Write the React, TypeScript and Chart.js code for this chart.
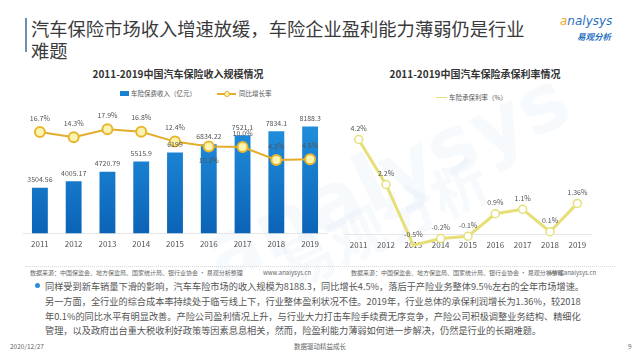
import React, { useEffect, useRef } from "react";
import { Chart, registerables } from "chart.js";

Chart.register(...registerables);

const years = ["2011", "2012", "2013", "2014", "2015", "2016", "2017", "2018", "2019"];
const premiumIncome = [3504.56, 4005.17, 4720.79, 5515.9, 6199, 6834.22, 7521.1, 7834.1, 8188.3];
const premiumLabels = ["3504.56", "4005.17", "4720.79", "5515.9", "6199", "6834.22", "7521.1", "7834.1", "8188.3"];
const growthRate = [16.7, 14.3, 17.9, 16.8, 12.4, 10.2, 10.0, 4.2, 4.5];
const growthLabels = ["16.7%", "14.3%", "17.9%", "16.8%", "12.4%", "10.2%", "10.0%", "4.2%", "4.5%"];
const underwritingRate = [4.2, 2.2, -0.5, -0.2, -0.1, 0.9, 1.1, 0.1, 1.36];
const underwritingLabels = ["4.2%", "2.2%", "-0.5%", "-0.2%", "-0.1%", "0.9%", "1.1%", "0.1%", "1.36%"];

const FONT = "'Noto Sans CJK SC', 'Noto Sans', sans-serif";

const valueLabelPlugin = {
  id: "valueLabels",
  afterDatasetsDraw(chart: any) {
    const ctx = chart.ctx;
    chart.data.datasets.forEach((ds: any, i: number) => {
      const cfg = ds.valueLabels;
      if (!cfg) return;
      const meta = chart.getDatasetMeta(i);
      meta.data.forEach((el: any, j: number) => {
        const below = cfg.below && cfg.below.includes(j);
        ctx.save();
        ctx.font = cfg.font;
        ctx.fillStyle = cfg.color;
        ctx.textAlign = "center";
        ctx.textBaseline = "middle";
        ctx.fillText(cfg.texts[j], el.x, below ? el.y + cfg.offset : el.y - cfg.offset);
        ctx.restore();
      });
    });
  },
};

function LeftChart() {
  const ref = useRef<HTMLCanvasElement>(null);
  useEffect(() => {
    const chart = new Chart(ref.current!, {
      type: "bar",
      data: {
        labels: years,
        datasets: [
          {
            type: "line",
            data: growthRate,
            yAxisID: "y1",
            order: 0,
            borderColor: "#e3ac2c",
            borderWidth: 2,
            pointRadius: 5,
            pointBackgroundColor: "#fbf3b0",
            pointBorderColor: "#e8b62e",
            pointBorderWidth: 2,
            tension: 0,
            clip: false,
            valueLabels: { texts: growthLabels, font: `7px ${FONT}`, color: "#555", offset: 14, below: [5] },
          } as any,
          {
            type: "bar",
            data: premiumIncome,
            yAxisID: "y",
            order: 1,
            categoryPercentage: 1,
            barPercentage: 0.47,
            backgroundColor: (c: any) => {
              const area = c.chart.chartArea;
              if (!area) return "#1a80d0";
              const g = c.chart.ctx.createLinearGradient(0, area.top, 0, area.bottom);
              g.addColorStop(0, "#2597e4");
              g.addColorStop(1, "#0b63b6");
              return g;
            },
            valueLabels: { texts: premiumLabels, font: `7px ${FONT}`, color: "#555", offset: 8 },
          } as any,
        ],
      },
      options: {
        responsive: false,
        animation: false,
        layout: { padding: { left: 23, right: 8, top: 4, bottom: 7 } },
        plugins: { legend: { display: false }, tooltip: { enabled: false } },
        scales: {
          x: {
            grid: { display: false, drawTicks: false },
            border: { display: true, color: "#e6e6e6" },
            ticks: { font: { size: 8, family: FONT }, color: "#555", padding: 6 },
          },
          y: { display: false, min: 0, max: 10000 },
          y1: { display: false, min: -28.5, max: 29.6 },
        },
      },
      plugins: [valueLabelPlugin],
    });
    return () => chart.destroy();
  }, []);
  return (
    <canvas ref={ref} width={335} height={166} style={{ position: "absolute", left: 0, top: 96, width: 335, height: 166 }} />
  );
}

function RightChart() {
  const ref = useRef<HTMLCanvasElement>(null);
  useEffect(() => {
    const chart = new Chart(ref.current!, {
      type: "line",
      data: {
        labels: years,
        datasets: [
          {
            data: underwritingRate,
            borderColor: "#e6df78",
            borderWidth: 3,
            pointRadius: 4,
            pointBackgroundColor: "#ffffff",
            pointBorderColor: "#e6df78",
            pointBorderWidth: 1.5,
            tension: 0,
            clip: false,
            valueLabels: { texts: underwritingLabels, font: `7px ${FONT}`, color: "#555", offset: 11 },
          } as any,
        ],
      },
      options: {
        responsive: false,
        animation: false,
        layout: { padding: { left: 15, right: 49, top: 6.5, bottom: 7.4 } },
        plugins: { legend: { display: false }, tooltip: { enabled: false } },
        scales: {
          x: {
            offset: true,
            grid: { display: false, drawTicks: false },
            border: { display: true, color: "#e6e6e6" },
            ticks: { font: { size: 8, family: FONT }, color: "#555", padding: 6 },
          },
          y: { display: false, min: 0, max: 5 },
        },
      },
      plugins: [valueLabelPlugin],
    });
    return () => chart.destroy();
  }, []);
  return (
    <canvas ref={ref} width={310} height={148} style={{ position: "absolute", left: 330, top: 115, width: 310, height: 148 }} />
  );
}

const abs = (s: React.CSSProperties): React.CSSProperties => ({ position: "absolute", whiteSpace: "nowrap", ...s });

export default function App() {
  const small: React.CSSProperties = { fontSize: 6, color: "#666", fontFamily: FONT };
  const body: React.CSSProperties = { fontSize: 9.2, color: "#555", fontFamily: FONT, left: 45 };
  return (
    <div style={{ position: "fixed", left: 0, top: 0, width: 640, height: 360, background: "#fff", overflow: "hidden", fontFamily: FONT }}>
      {/* watermark */}
      <div style={abs({ left: 190, top: 130, fontSize: 80, fontWeight: 700, color: "rgba(60,140,210,0.045)", transform: "rotate(-25deg)", fontFamily: "'DejaVu Sans', sans-serif" })}>analysys</div>
      <div style={abs({ left: 270, top: 180, fontSize: 56, fontWeight: 700, color: "rgba(60,140,210,0.045)", transform: "rotate(-25deg)" })}>易观分析</div>

      <div style={abs({ left: 25, top: 18, width: 2, height: 34, background: "#6d8fb3" })} />
      <div style={abs({ left: 31, top: 17, fontSize: 18.3, lineHeight: "22px", color: "#3a3a3a" })}>
        汽车保险市场收入增速放缓，车险企业盈利能力薄弱仍是行业
        <br />
        难题
      </div>
      <div style={abs({ left: 560, top: 14, fontSize: 12, fontStyle: "italic", color: "#1f6fc2", fontFamily: "'DejaVu Sans', sans-serif" })}>
        <span style={{ color: "#f0a830" }}>a</span>nalysys
      </div>
      <div style={abs({ left: 577, top: 30, fontSize: 8.5, fontStyle: "italic", color: "#1f6fc2", fontWeight: 700 })}>易观分析</div>

      <div style={abs({ left: 0, width: 356, top: 66, textAlign: "center", fontSize: 10, fontWeight: 700, color: "#333" })}>
        2011-2019中国汽车保险收入规模情况
      </div>
      <div style={abs({ left: 320, width: 310, top: 66, textAlign: "center", fontSize: 10, fontWeight: 700, color: "#333" })}>
        2011-2019中国汽车保险承保利率情况
      </div>

      {/* left legend */}
      <div style={abs({ left: 120, top: 91, width: 9, height: 5, background: "#1a80d0" })} />
      <div style={abs({ left: 131, top: 88, fontSize: 6.5, color: "#555" })}>车险保费收入（亿元）</div>
      <div style={abs({ left: 217, top: 93, width: 19, height: 1.5, background: "#e3ac2c" })} />
      <div style={abs({ left: 223.5, top: 90.5, width: 4, height: 4, borderRadius: 4, border: "1px solid #e3ac2c", background: "#fbf3b0" })} />
      <div style={abs({ left: 239, top: 88, fontSize: 6.5, color: "#555" })}>同比增长率</div>

      {/* right legend */}
      <div style={abs({ left: 436, top: 96.5, width: 11, height: 1.5, background: "#e6df78" })} />
      <div style={abs({ left: 449, top: 92, fontSize: 6.5, color: "#555" })}>车险承保利率（%）</div>

      <LeftChart />
      <RightChart />

      {/* sources */}
      <div style={abs({ left: 25, top: 266, width: 590, borderTop: "1px dotted #d8d8d8" })} />
      <div style={abs({ ...small, left: 30, top: 268 })}>数据来源：中国保监会、地方保监局、国家统计局、银行业协会 · 易观分析整理</div>
      <div style={abs({ ...small, left: 263, top: 268 })}>www.analysys.cn</div>
      <div style={abs({ ...small, left: 351, top: 268 })}>数据来源：中国保监会、地方保监局、国家统计局、银行业协会 · 易观分析整理</div>
      <div style={abs({ ...small, left: 548, top: 268 })}>www.analysys.cn</div>

      {/* body text */}
      <div style={abs({ left: 35, top: 283, width: 5, height: 5, borderRadius: 5, background: "#2a8fd6" })} />
      <div style={abs({ ...body, top: 279 })}>同样受到新车销量下滑的影响，汽车车险市场的收入规模为8188.3，同比增长4.5%，落后于产险业务整体9.5%左右的全年市场增速。</div>
      <div style={abs({ ...body, top: 294 })}>另一方面，全行业的综合成本率持续处于临亏线上下，行业整体盈利状况不佳。2019年，行业总体的承保利润增长为1.36%，较2018</div>
      <div style={abs({ ...body, top: 309 })}>年0.1%的同比水平有明显改善。产险公司盈利情况上升，与行业大力打击车险手续费无序竞争，产险公司积极调整业务结构、精细化</div>
      <div style={abs({ ...body, top: 323 })}>管理，以及政府出台重大税收利好政策等因素息息相关，然而，险盈利能力薄弱如何进一步解决，仍然是行业的长期难题。</div>

      {/* footer */}
      <div style={abs({ ...small, fontSize: 6.5, left: 10, top: 341 })}>2020/12/27</div>
      <div style={abs({ ...small, fontSize: 6.5, left: 0, width: 640, textAlign: "center", top: 341 })}>数据驱动精益成长</div>
      <div style={abs({ ...small, fontSize: 6.5, left: 628, top: 341 })}>9</div>
    </div>
  );
}
